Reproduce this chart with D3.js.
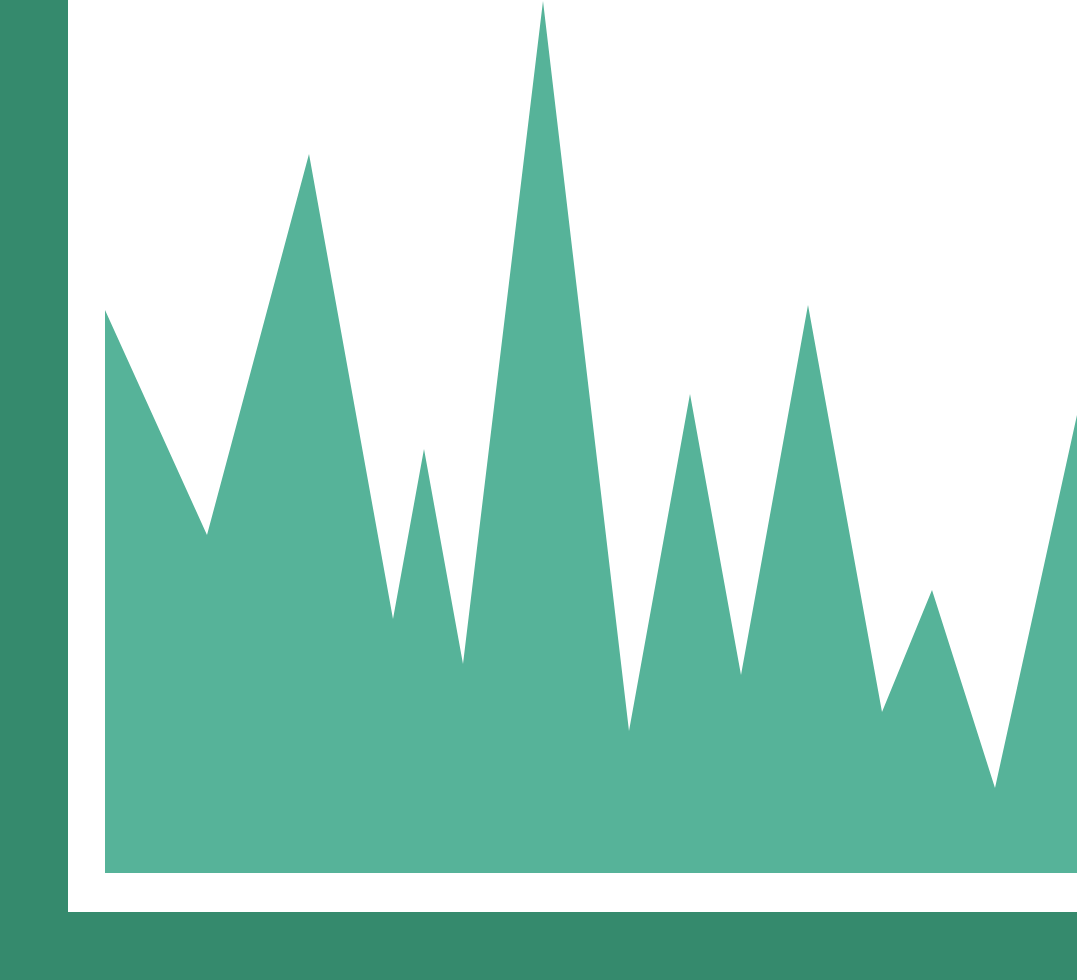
<!DOCTYPE html>
<html><head><meta charset="utf-8">
<script src="https://cdn.jsdelivr.net/npm/d3@7"></script>
<style>html,body{margin:0;padding:0;background:#fff;overflow:hidden}</style>
</head><body>
<svg id="c" width="1077" height="980"></svg>
<script>
const xValues = [0, 102, 204, 288, 319, 358, 438, 524, 585, 636, 703, 777, 827, 890, 972];
const yValues = [563, 338, 719, 254, 424, 209, 872, 142, 479, 198, 568, 161, 283, 85, 458];

const svg = d3.select("#c");
const x = d3.scaleLinear().domain([0, 972]).range([105, 1077]);
const y = d3.scaleLinear().domain([0, 872]).range([873, 1]);

const data = xValues.map((v, i) => ({x: v, y: yValues[i]}));
const area = d3.area().x(d => x(d.x)).y0(y(0)).y1(d => y(d.y)).curve(d3.curveLinear);
svg.append("path").datum(data).attr("d", area).attr("fill", "#56b399");

// L-shaped axes frame
svg.append("rect").attr("x", 0).attr("y", 0).attr("width", 68).attr("height", 980).attr("fill", "#358a6d");
svg.append("rect").attr("x", 0).attr("y", 912).attr("width", 1077).attr("height", 68).attr("fill", "#358a6d");
</script>
</body></html>
